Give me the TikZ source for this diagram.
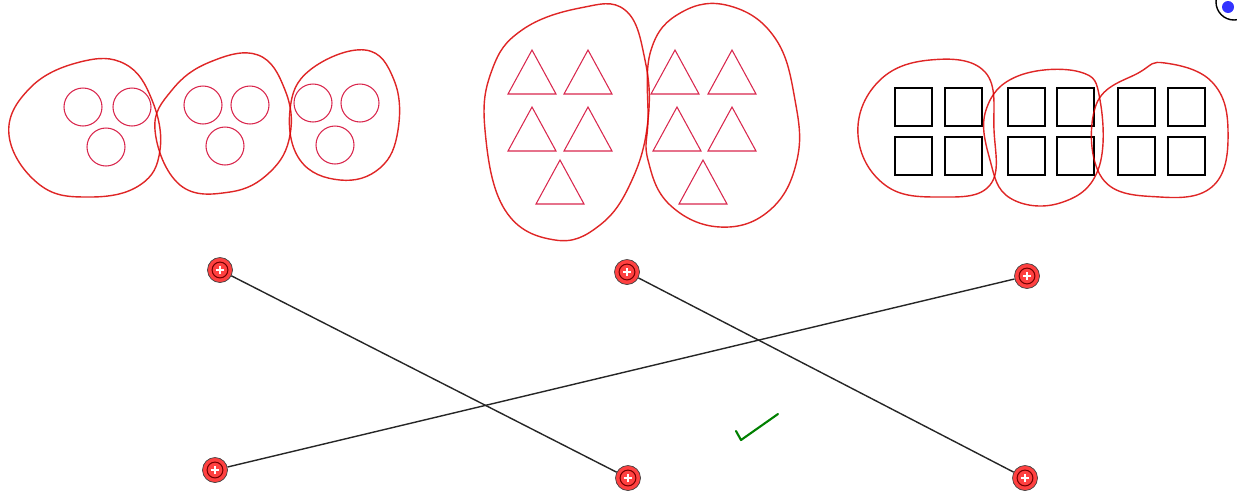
\documentclass[tikz,border=0pt]{standalone}
\usepackage{tikz}
\usetikzlibrary{arrows.meta}

\begin{document}
\begin{tikzpicture}[x=0.02cm, y=-0.02cm,
	blob/.style={red!85!black, thick, opacity=0.85},
	item/.style={purple!70!red, semithick, opacity=0.85},
	box/.style={black, very thick},
	knob/.style={circle, draw=black!75, fill=red!75!white, minimum size=0.5cm, inner sep=0pt,
		path picture={
			\draw[red!45!black, semithick] (path picture bounding box.center) circle (4.5pt);
			\draw[white, line width=1.5pt] ([xshift=-2.4pt]path picture bounding box.center) -- ([xshift=2.4pt]path picture bounding box.center);
			\draw[white, line width=1.5pt] ([yshift=-2.4pt]path picture bounding box.center) -- ([yshift=2.4pt]path picture bounding box.center);
		}},
	link/.style={black!85, thick}]
	\useasboundingbox (0,0) rectangle (1237,498);
	\clip (0,0) rectangle (1237,498);
	\begin{scope}
		\foreach \cx/\cy in {83/107, 132/107, 106/147, 203/105, 250/105, 225/146, 313/103, 360/103, 335/145}
			\draw[item] (\cx,\cy) circle (19);
		\draw[blob] plot[smooth cycle, tension=0.7] coordinates {(9,135) (30,88) (80,62) (125,64) (152,100) (160,150) (140,185) (90,197) (40,185)};
		\draw[blob] plot[smooth cycle, tension=0.7] coordinates {(155,130) (172,90) (210,62) (258,55) (285,90) (290,135) (270,172) (230,192) (180,185)};
		\draw[blob] plot[smooth cycle, tension=0.7] coordinates {(290,110) (310,70) (365,50) (394,80) (398,130) (380,168) (340,180) (300,160)};
	\end{scope}
	\begin{scope}
		\foreach \ax/\ay in {532/50, 588/50, 532/107, 588/107, 560/160, 675/50, 732/50, 677/107, 732/107, 703/160}
			\draw[item] (\ax,\ay) -- (\ax+24,\ay+44) -- (\ax-24,\ay+44) -- cycle;
		\draw[blob] plot[smooth cycle, tension=0.7] coordinates {(485,130) (492,70) (522,30) (580,8) (625,10) (645,60) (648,120) (632,180) (600,225) (555,240) (505,210)};
		\draw[blob] plot[smooth cycle, tension=0.7] coordinates {(648,120) (651,50) (682,12) (730,6) (775,38) (795,100) (797,160) (770,210) (720,227) (670,205) (648,160)};
	\end{scope}
	\begin{scope}
		\foreach \sx in {895, 945, 1008, 1057, 1118, 1168}
			\foreach \sy in {88, 137}
				\draw[box] (\sx,\sy) rectangle ++(37,38);
		\draw[blob] plot[smooth cycle, tension=0.7] coordinates {(858,135) (878,82) (930,60) (985,72) (994,130) (990,185) (940,197) (885,185)};
		\draw[blob] plot[smooth cycle, tension=0.7] coordinates {(986,110) (1018,76) (1080,72) (1100,100) (1098,170) (1060,203) (1010,198) (990,160)};
		\draw[blob] plot[smooth cycle, tension=0.7] coordinates {(1096,105) (1140,72) (1165,63) (1212,82) (1228,130) (1214,185) (1160,197) (1102,178)};
	\end{scope}
	\draw[black, thick] (1234,2) circle (18);
	\fill[blue!80] (1228,7) circle (6);
	\node[knob] (tl) at (220,270) {};
	\node[knob] (tm) at (627,272) {};
	\node[knob] (tr) at (1027,276) {};
	\node[knob] (bl) at (215,470) {};
	\node[knob] (bm) at (628,478) {};
	\node[knob] (br) at (1025,478) {};
	\draw[link] (tl) -- (bm);
	\draw[link] (tm) -- (br);
	\draw[link] (bl) -- (tr);
	\draw[green!50!black, very thick, line cap=round, line join=round] (736,431) -- (741,440) -- (778,414);
\end{tikzpicture}
\end{document}
